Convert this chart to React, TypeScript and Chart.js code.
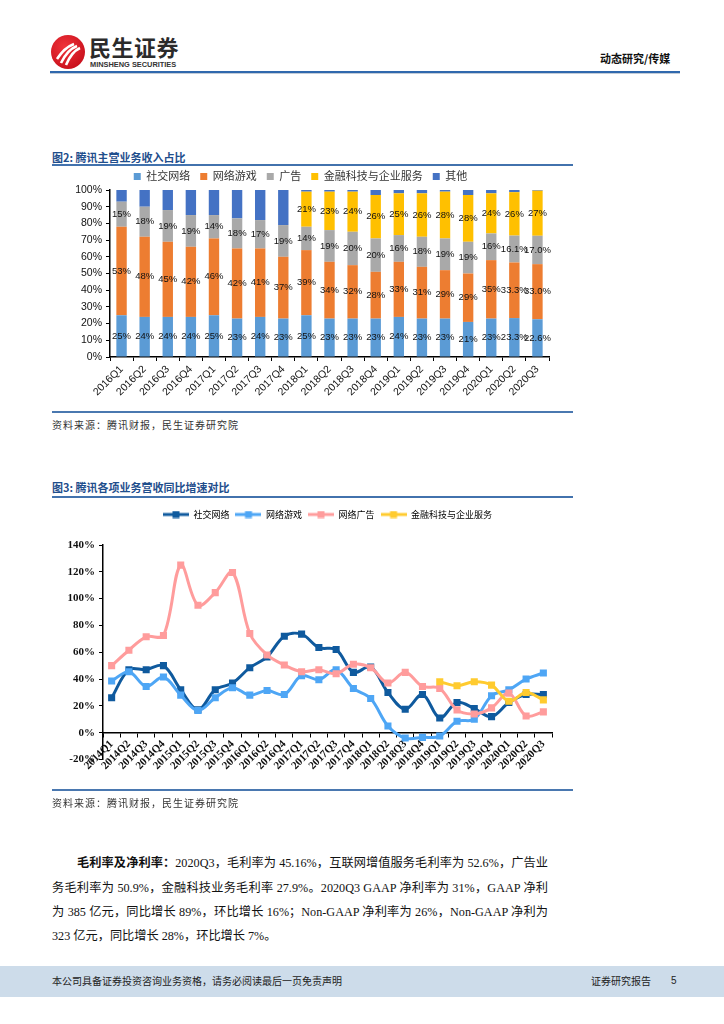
import React, { useEffect, useRef } from 'react';
import { Chart, registerables } from 'chart.js';

Chart.register(...registerables);

// ---------- Figure 2 data: revenue mix (%) ----------
const quarters1 = ['2016Q1','2016Q2','2016Q3','2016Q4','2017Q1','2017Q2','2017Q3','2017Q4','2018Q1','2018Q2','2018Q3','2018Q4','2019Q1','2019Q2','2019Q3','2019Q4','2020Q1','2020Q2','2020Q3'];
const socialShare = [25,24,24,24,25,23,24,23,25,23,23,23,24,23,23,21,23,23.3,22.6];
const gamesShare = [53,48,45,42,46,42,41,37,39,34,32,28,33,31,29,29,35,33.3,33.0];
const adsShare = [15,18,19,19,14,18,17,19,14,19,20,20,16,18,19,19,16,16.1,17.0];
const fintechShare = [null,null,null,null,null,null,null,null,21,23,24,26,25,26,28,28,24,26,27];
const otherShare = [7,10,12,15,15,17,18,21,1,1,1,3,2,2,1,3,2,1.3,0.4];
const oneDecimalQuarters = ['2020Q2','2020Q3'];
const shareSeriesNames = ['社交网络','网络游戏','广告','金融科技与企业服务','其他'];

// ---------- Figure 3 data: YoY growth (%) ----------
const quarters2 = ['2014Q1','2014Q2','2014Q3','2014Q4','2015Q1','2015Q2','2015Q3','2015Q4','2016Q1','2016Q2','2016Q4','2017Q1','2017Q2','2017Q3','2017Q4','2018Q1','2018Q2','2018Q3','2018Q4','2019Q1','2019Q2','2019Q3','2019Q4','2020Q1','2020Q2','2020Q3'];
const socialGrowth = [26,47,47,50,32,17,32,37,48.5,56.5,72,73.5,63.5,62,45,49,30,17.5,28.5,11,22.5,18,12,22.5,28.5,28.5];
const gamesGrowth = [38.5,45.5,34.5,41.5,28,16.5,26,33.5,28,31.5,28.5,42.5,39.5,47,33,25.5,5,-4,-3.5,-2.5,8.5,10,27.5,32,40,44.5];
const adsGrowth = [50,61.5,71.5,72.5,125,95,104.5,119.5,74,58,50.5,45.5,47,44,51,48.5,37,45,34.5,33,17,14,18.5,29.5,12.5,15.5];
const fintechGrowth = [null,null,null,null,null,null,null,null,null,null,null,null,null,null,null,null,null,null,null,38,35,38,35.5,23.5,30,24.5];
const growthSeriesNames = ['社交网络','网络游戏','网络广告','金融科技与企业服务'];

const SANS = '"Liberation Sans", "Noto Sans CJK SC", sans-serif';
const SERIF = '"Liberation Serif", "Noto Sans CJK SC", serif';
const CJK = '"Noto Sans CJK SC", sans-serif';

function legendHeightPlugin(h: number) {
  return {
    id: 'legendHeight',
    beforeLayout(chart: any) {
      const lg = chart.legend;
      if (lg && !lg._patched) {
        const fit = lg.fit;
        lg.fit = function () {
          fit.call(this);
          this.height = h;
        };
        lg._patched = true;
      }
    },
  };
}

const segmentLabelPlugin = {
  id: 'segmentLabels',
  afterDatasetsDraw(chart: any) {
    const ctx = chart.ctx;
    ctx.save();
    ctx.font = '9.5px "Liberation Sans", sans-serif';
    ctx.fillStyle = '#111';
    ctx.textAlign = 'center';
    ctx.textBaseline = 'middle';
    chart.data.datasets.forEach((ds: any, di: number) => {
      if (!ds.valueLabels) return;
      const meta = chart.getDatasetMeta(di);
      meta.data.forEach((el: any, i: number) => {
        const v = ds.data[i];
        if (v == null) return;
        const p = el.getProps(['x', 'y', 'base'], true);
        const q = chart.data.labels[i];
        const txt = ds.decimalLabels && oneDecimalQuarters.includes(q) ? v.toFixed(1) + '%' : Math.round(v) + '%';
        ctx.fillText(txt, p.x, (p.y + p.base) / 2);
      });
    });
    ctx.restore();
  },
};

function makeLegendIcon(color: string) {
  const c = document.createElement('canvas');
  c.width = 26;
  c.height = 8;
  const g = c.getContext('2d')!;
  g.strokeStyle = color;
  g.lineWidth = 3;
  g.beginPath();
  g.moveTo(0, 4);
  g.lineTo(26, 4);
  g.stroke();
  g.fillStyle = color;
  g.fillRect(9.5, 0.5, 7, 7);
  return c;
}

function ChartCanvas({ make, left, top, width, height }: any) {
  const ref = useRef<HTMLCanvasElement>(null);
  useEffect(() => {
    const chart = new Chart(ref.current as HTMLCanvasElement, make());
    return () => chart.destroy();
  }, []);
  return (
    <canvas
      ref={ref}
      width={width}
      height={height}
      style={{ position: 'absolute', left, top, width, height }}
    />
  );
}

function makeShareChart(): any {
  const colors = ['#5b9bd5', '#ed7d31', '#a9a9a9', '#ffc000', '#4472c4'];
  const series = [socialShare, gamesShare, adsShare, fintechShare, otherShare];
  return {
    type: 'bar',
    data: {
      labels: quarters1,
      datasets: series.map((d, i) => ({
        label: shareSeriesNames[i],
        data: d,
        backgroundColor: colors[i],
        borderWidth: 0,
        barPercentage: 0.45,
        categoryPercentage: 1,
        stack: 's',
        valueLabels: i < 4,
        decimalLabels: i < 3,
      })),
    },
    options: {
      responsive: false,
      animation: false,
      devicePixelRatio: 1,
      layout: { padding: { left: 0, right: 24, top: 0, bottom: 0 } },
      plugins: {
        legend: {
          position: 'top',
          labels: { boxWidth: 7, boxHeight: 7, padding: 10, color: '#333', font: { family: SANS, size: 11 } },
        },
        tooltip: { enabled: false },
      },
      scales: {
        x: {
          stacked: true,
          grid: { display: true, drawOnChartArea: false, drawTicks: true, tickLength: 4, color: '#000', offset: true },
          border: { display: true, color: '#000', width: 1.5 },
          ticks: { autoSkip: false, maxRotation: 45, minRotation: 45, color: '#111', padding: 2, font: { family: SANS, size: 10.5 } },
          afterFit(s: any) { s.height = 51; },
        },
        y: {
          stacked: true,
          min: 0,
          max: 100,
          ticks: { stepSize: 10, callback: (v: any) => v + '%', color: '#111', padding: 4, font: { family: SANS, size: 10.5 } },
          grid: { drawOnChartArea: false, tickLength: 4, color: '#000' },
          border: { display: true, color: '#000', width: 1.5 },
          afterFit(s: any) { s.width = 58; },
        },
      },
    },
    plugins: [legendHeightPlugin(29), segmentLabelPlugin],
  };
}

function makeGrowthChart(): any {
  const colors = ['#0f5a9e', '#4ea6f5', '#ff9c9c', '#ffcb2f'];
  const series = [socialGrowth, gamesGrowth, adsGrowth, fintechGrowth];
  return {
    type: 'line',
    data: {
      labels: quarters2,
      datasets: series.map((d, i) => ({
        label: growthSeriesNames[i],
        data: d,
        borderColor: colors[i],
        backgroundColor: colors[i],
        pointBackgroundColor: colors[i],
        pointBorderWidth: 0,
        borderWidth: 3,
        pointStyle: 'rect',
        pointRadius: 5,
        tension: 0.35,
        fill: false,
        order: 3 - i,
      })),
    },
    options: {
      responsive: false,
      animation: false,
      devicePixelRatio: 1,
      layout: { padding: { left: 0, right: 21, top: 0, bottom: 30.5 } },
      plugins: {
        legend: {
          position: 'top',
          fullSize: false,
          labels: {
            usePointStyle: true,
            pointStyleWidth: 26,
            padding: 6,
            color: '#333',
            font: { family: CJK, size: 9 },
            generateLabels(chart: any) {
              return chart.data.datasets.map((ds: any, i: number) => ({
                text: ds.label,
                pointStyle: makeLegendIcon(ds.borderColor),
                fillStyle: ds.borderColor,
                strokeStyle: ds.borderColor,
                lineWidth: 0,
                hidden: false,
                datasetIndex: i,
              }));
            },
          },
        },
        tooltip: { enabled: false },
      },
      scales: {
        x: {
          position: { y: 0 },
          offset: true,
          grid: { display: true, drawOnChartArea: false, offset: true, tickLength: 4, color: '#000' },
          border: { display: true, color: '#000', width: 1.5 },
          ticks: { autoSkip: false, minRotation: 45, maxRotation: 45, color: '#111', padding: 1, font: { family: SERIF, size: 11, weight: 'bold' } },
        },
        y: {
          min: -20,
          max: 140,
          ticks: { stepSize: 20, callback: (v: any) => v + '%', color: '#111', padding: 4, font: { family: SERIF, size: 11, weight: 'bold' } },
          grid: { drawOnChartArea: false, tickLength: 4, color: '#000' },
          border: { display: true, color: '#000', width: 1.5 },
          afterFit(s: any) { s.width = 51; },
        },
      },
    },
    plugins: [legendHeightPlugin(41)],
  };
}

const abs = (left: number, top: number, extra: React.CSSProperties = {}): React.CSSProperties => ({
  position: 'absolute',
  left,
  top,
  whiteSpace: 'nowrap',
  ...extra,
});

const bodyLine: React.CSSProperties = {
  position: 'absolute',
  fontFamily: SERIF,
  fontSize: 12.2,
  lineHeight: '16px',
  color: '#111',
  textAlign: 'justify',
  textAlignLast: 'justify' as any,
};

export default function App() {
  return (
    <div style={{ position: 'absolute', left: 0, top: 0, width: 724, height: 1024, background: '#fff', overflow: 'hidden' }}>
      {/* header */}
      <svg style={{ position: 'absolute', left: 50, top: 34 }} width={36} height={36} viewBox="0 0 36 36">
        <defs>
          <radialGradient id="lg" cx="40%" cy="35%" r="70%">
            <stop offset="0%" stopColor="#f0333a" />
            <stop offset="100%" stopColor="#c8101c" />
          </radialGradient>
        </defs>
        <circle cx="18" cy="18" r="17" fill="url(#lg)" />
        <path d="M7 25 C 12 18, 16 13, 24 10" stroke="#fff" strokeWidth="2.6" fill="none" />
        <path d="M11 29 C 15 21, 19 15, 27 12" stroke="#fff" strokeWidth="2.6" fill="none" />
        <path d="M16 31 C 19 24, 23 17, 30 14" stroke="#fff" strokeWidth="2.6" fill="none" />
      </svg>
      <div style={abs(89, 33, { fontFamily: CJK, fontWeight: 700, fontSize: 22, lineHeight: '26px', color: '#2b2b2b', letterSpacing: 0.5 })}>民生证券</div>
      <div style={abs(90, 60, { fontFamily: SANS, fontWeight: 700, fontSize: 7.4, lineHeight: '9px', color: '#333' })}>MINSHENG SECURITIES</div>
      <div style={abs(600, 51, { fontFamily: CJK, fontWeight: 700, fontSize: 11, lineHeight: '14px', color: '#111' })}>动态研究/传媒</div>
      <div style={{ position: 'absolute', left: 50, top: 71, width: 630, height: 2, background: '#2f68ad' }} />
      <div style={{ position: 'absolute', left: 50, top: 73, width: 630, height: 1, background: '#c2ccd8' }} />

      {/* figure 2 */}
      <div style={abs(52, 150, { fontFamily: CJK, fontWeight: 700, fontSize: 11, lineHeight: '14px', color: '#1f4e8c' })}>图2: 腾讯主营业务收入占比</div>
      <div style={{ position: 'absolute', left: 52, top: 164, width: 521, height: 2, background: '#4272ad' }} />
      <ChartCanvas make={makeShareChart} left={52} top={161} width={521} height={247} />
      <div style={{ position: 'absolute', left: 52, top: 411, width: 521, height: 1.5, background: '#4a78b0' }} />
      <div style={abs(52, 418, { fontFamily: CJK, fontSize: 10, lineHeight: '14px', color: '#333', letterSpacing: 1 })}>资料来源：腾讯财报，民生证券研究院</div>

      {/* figure 3 */}
      <div style={abs(52, 480, { fontFamily: CJK, fontWeight: 700, fontSize: 11, lineHeight: '14px', color: '#1f4e8c' })}>图3: 腾讯各项业务营收同比增速对比</div>
      <div style={{ position: 'absolute', left: 52, top: 496, width: 521, height: 2, background: '#4272ad' }} />
      <ChartCanvas make={makeGrowthChart} left={52} top={504} width={521} height={286} />
      <div style={{ position: 'absolute', left: 52, top: 789, width: 521, height: 1.5, background: '#4a78b0' }} />
      <div style={abs(52, 796, { fontFamily: CJK, fontSize: 10, lineHeight: '14px', color: '#333', letterSpacing: 1 })}>资料来源：腾讯财报，民生证券研究院</div>

      {/* body text */}
      <div style={{ ...bodyLine, left: 77, top: 855, width: 471 }}>
        <b>毛利率及净利率：</b>2020Q3，毛利率为 45.16%，互联网增值服务毛利率为 52.6%，广告业
      </div>
      <div style={{ ...bodyLine, left: 52, top: 880, width: 496 }}>
        务毛利率为 50.9%，金融科技业务毛利率 27.9%。2020Q3 GAAP 净利率为 31%，GAAP 净利
      </div>
      <div style={{ ...bodyLine, left: 52, top: 904, width: 496 }}>
        为 385 亿元，同比增长 89%，环比增长 16%；Non-GAAP 净利率为 26%，Non-GAAP 净利为
      </div>
      <div style={{ ...bodyLine, left: 52, top: 928, textAlign: 'left', textAlignLast: 'left' as any, whiteSpace: 'nowrap' }}>
        323 亿元，同比增长 28%，环比增长 7%。
      </div>

      {/* footer */}
      <div style={{ position: 'absolute', left: 0, top: 966, width: 724, height: 31, background: '#cddcea' }} />
      <div style={abs(52, 974, { fontFamily: CJK, fontSize: 10, lineHeight: '14px', color: '#222' })}>本公司具备证券投资咨询业务资格，请务必阅读最后一页免责声明</div>
      <div style={abs(591, 974, { fontFamily: CJK, fontSize: 10, lineHeight: '14px', color: '#222' })}>证券研究报告</div>
      <div style={abs(671, 974, { fontFamily: SANS, fontSize: 10, lineHeight: '14px', color: '#222' })}>5</div>
    </div>
  );
}
